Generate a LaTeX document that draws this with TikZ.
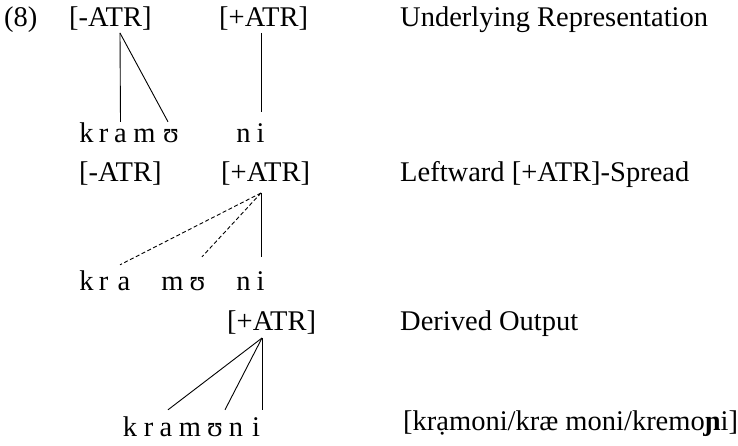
\documentclass[tikz,border=0pt]{standalone}
\usepackage{fontspec}
\setmainfont{Liberation Serif}
\begin{document}
\begin{tikzpicture}[x=1pt,y=-1pt,
  txt/.style={anchor=base west,inner sep=0pt,font=\fontsize{28.5}{34}\selectfont},
  seg/.style={anchor=base,inner sep=0pt,text height=13pt,text depth=0pt,font=\fontsize{28.5}{34}\selectfont},
  assoc/.style={line width=0.9pt},
  spread/.style={line width=0.9pt,dash pattern=on 4pt off 2.5pt}]
\useasboundingbox (0,0) rectangle (738,446);

% ---- stage 1: underlying representation
\node[txt] (ex)   at (4,27)   {(8)};
\node[txt] (f1m)  at (69,27)  {[-ATR]};
\node[txt] (f1p)  at (219,27) {[+ATR]};
\node[txt] (lab1) at (400,27) {Underlying Representation};

\node[seg] (k1) at (86.5,143)  {k};
\node[seg] (r1) at (103.5,143) {r};
\node[seg] (a1) at (120.5,143) {a};
\node[seg] (m1) at (144.5,143) {m};
\node[seg] (u1) at (171,143)   {ʊ};
\node[seg] (n1) at (243.5,143) {n};
\node[seg] (i1) at (260.5,143) {i};

\coordinate (t1m) at (120,33);
\coordinate (t1p) at (261,33);
\draw[assoc] (t1m) -- ([yshift=8pt]a1.north);
\draw[assoc] (t1m) -- ([shift={(-3pt,8pt)}]u1.north);
\draw[assoc] (t1p) -- ([shift={(0.5pt,18pt)}]i1.north);

% ---- stage 2: leftward [+ATR] spread
\node[txt] (f2m)  at (79,182)  {[-ATR]};
\node[txt] (f2p)  at (221,182) {[+ATR]};
\node[txt] (lab2) at (400,182) {Leftward [+ATR]-Spread};

\node[seg] (k2) at (86.5,290)  {k};
\node[seg] (r2) at (103.5,290) {r};
\node[seg] (a2) at (124,290)   {a};
\node[seg] (m2) at (172.5,290) {m};
\node[seg] (u2) at (197.5,290) {ʊ};
\node[seg] (n2) at (243.5,290) {n};
\node[seg] (i2) at (260.5,290) {i};

\coordinate (t2) at (261,193);
\draw[spread] (t2) -- ([shift={(-4pt,12pt)}]a2.north);
\draw[spread] (t2) -- ([shift={(4.5pt,20pt)}]u2.north);
\draw[assoc]  (t2) -- ([shift={(0.5pt,20pt)}]i2.north);

% ---- stage 3: derived output
\node[txt] (f3p)  at (227,330) {[+ATR]};
\node[txt] (lab3) at (400,330) {Derived Output};

\node[seg] (k3) at (130,436)   {k};
\node[seg] (r3) at (148.5,436) {r};
\node[seg] (a3) at (166,436)   {a};
\node[seg] (m3) at (190,436)   {m};
\node[seg] (u3) at (215,436)   {ʊ};
\node[seg] (n3) at (236,436)   {n};
\node[seg] (i3) at (256,436)   {i};

\coordinate (t3) at (262,338);
\draw[assoc] (t3) -- ([shift={(2pt,13pt)}]a3.north);
\draw[assoc] (t3) -- ([shift={(10pt,13pt)}]u3.north);
\draw[assoc] (t3) -- ([shift={(6pt,13pt)}]i3.north);

\node[txt] (out) at (403,430) {[krạmoni/kræ moni/kremo\textbf{ɲ}i]};
\end{tikzpicture}
\end{document}
